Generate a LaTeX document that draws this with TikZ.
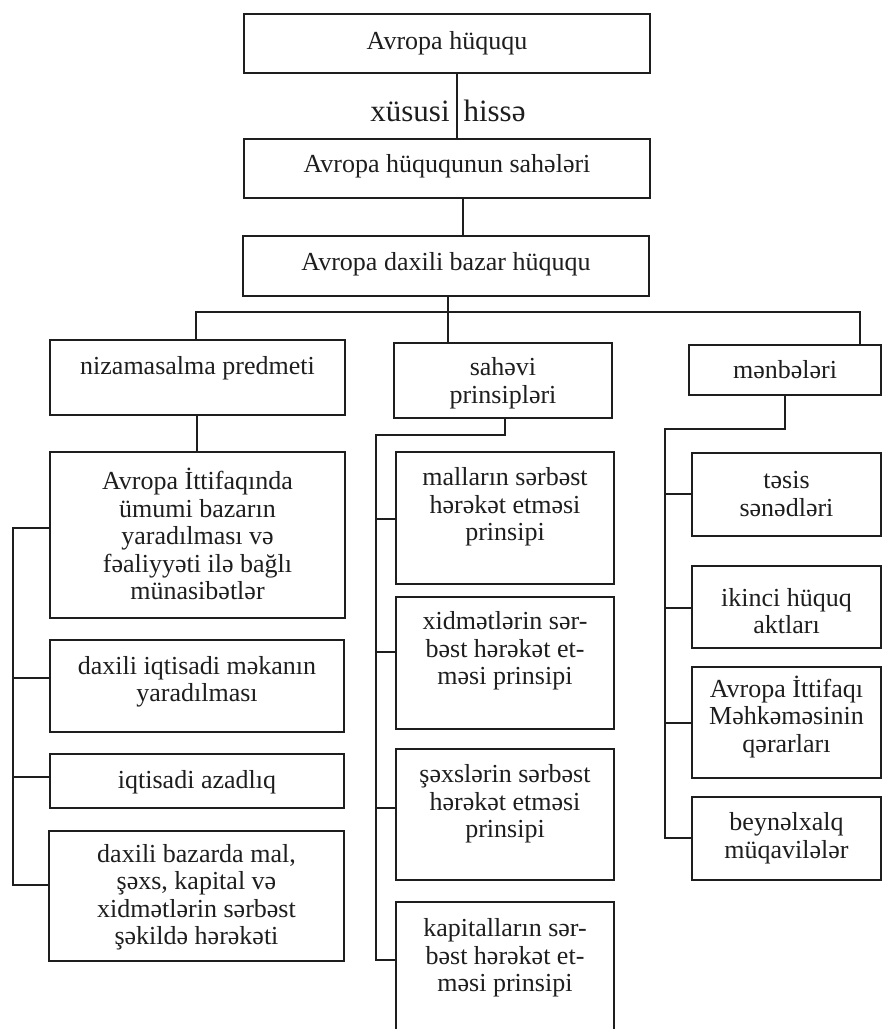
\documentclass[tikz,border=0pt]{standalone}
\usepackage{fontspec}
\setmainfont{Liberation Serif}
\definecolor{ink}{HTML}{1E1E1E}
% a framed box from (left,top) to (right,bottom) with its text centred at height ty
\newcommand\tbox[7]{%
  \node[frame, minimum width={#4-#2}, minimum height={#5-#3}] (#1) at (#2,#3) {};
  \node[lbl] (#1-t) at (#1.center |- 0,#6) {#7};}
\begin{document}
\begin{tikzpicture}[x=1pt,y=-1pt,
  frame/.style={draw=ink, line width=1.6pt, rectangle, inner sep=0pt, outer sep=0pt, anchor=north west},
  lbl/.style={text=ink, align=center, font=\fontsize{26}{27.5}\selectfont, inner sep=0pt},
  big/.style={text=ink, font=\fontsize{31}{33}\selectfont, inner sep=0pt, anchor=base},
  wire/.style={draw=ink, line width=1.6pt}]
\useasboundingbox (0,0) rectangle (884,1029);
\fill[white] (0,0) rectangle (884,1029);
\clip (0,0) rectangle (884,1029);

% upper chain
\tbox{top}{244}{14}{650}{73}{43}{Avropa hüququ}
\tbox{sah}{244}{139}{650}{198}{166}{Avropa hüququnun sahələri}
\tbox{dax}{243}{236}{649}{296}{264}{Avropa daxili bazar hüququ}
\node[big] (xh) at (448,121) {xüsusi\hspace{0.45em}hissə};

% three branches
\tbox{niz}{50}{340}{345}{415}{368}{nizamasalma predmeti}
\tbox{sahv}{394}{343}{612}{418}{383}{sahəvi\\prinsipləri}
\tbox{menb}{689}{345}{881}{395}{370}{mənbələri}

% left column
\tbox{L1}{50}{452}{345}{618}{534}{Avropa İttifaqında\\ümumi bazarın\\yaradılması və\\fəaliyyəti ilə bağlı\\münasibətlər}
\tbox{L2}{50}{640}{344}{732}{682}{daxili iqtisadi məkanın\\yaradılması}
\tbox{L3}{50}{754}{344}{808}{782}{iqtisadi azadlıq}
\tbox{L4}{49}{831}{344}{961}{897}{daxili bazarda mal,\\şəxs, kapital və\\xidmətlərin sərbəst\\şəkildə hərəkəti}

% middle column
\tbox{M1}{396}{452}{614}{584}{507}{malların sərbəst\\hərəkət etməsi\\prinsipi}
\tbox{M2}{396}{597}{614}{729}{651}{xidmətlərin sər-\\bəst hərəkət et-\\məsi prinsipi}
\tbox{M3}{396}{749}{614}{880}{804}{şəxslərin sərbəst\\hərəkət etməsi\\prinsipi}
\tbox{M4}{396}{902}{614}{1060}{958}{kapitalların sər-\\bəst hərəkət et-\\məsi prinsipi}

% right column
\tbox{R1}{692}{453}{881}{536}{494}{təsis\\sənədləri}
\tbox{R2}{692}{566}{881}{648}{611}{ikinci hüquq\\aktları}
\tbox{R3}{692}{667}{881}{778}{717}{Avropa İttifaqı\\Məhkəməsinin\\qərarları}
\tbox{R4}{692}{797}{881}{880}{838}{beynəlxalq\\müqavilələr}

% connectors of the upper chain
\draw[wire] (top.south -| 457,0) -- (sah.north -| 457,0);
\draw[wire] (sah.south -| 463,0) -- (dax.north -| 463,0);
\draw[wire] (dax.south -| 448,0) -- (sahv.north -| 448,0);
\coordinate (busL) at (196,312);
\coordinate (busR) at (860,312);
\draw[wire] (niz.north -| busL) -- (busL) -- (busR) -- (menb.north -| busR);

% left spine
\draw[wire] (niz.south -| 197,0) -- (L1.north -| 197,0);
\coordinate (lsp) at (13,528);
\draw[wire] (L1.west |- lsp) -- (lsp) -- (lsp |- 0,885) -- (L4.west |- 0,885);
\draw[wire] (lsp |- 0,678) -- (L2.west |- 0,678);
\draw[wire] (lsp |- 0,777) -- (L3.west |- 0,777);

% middle spine
\coordinate (msp) at (376,435);
\draw[wire] (sahv.south -| 505,0) |- (msp) -- (msp |- 0,960) -- (M4.west |- 0,960);
\draw[wire] (msp |- 0,519) -- (M1.west |- 0,519);
\draw[wire] (msp |- 0,652) -- (M2.west |- 0,652);
\draw[wire] (msp |- 0,808) -- (M3.west |- 0,808);

% right spine
\coordinate (rsp) at (665,429);
\draw[wire] (menb.south -| 785,0) |- (rsp) -- (rsp |- 0,838) -- (R4.west |- 0,838);
\draw[wire] (rsp |- 0,494) -- (R1.west |- 0,494);
\draw[wire] (rsp |- 0,608) -- (R2.west |- 0,608);
\draw[wire] (rsp |- 0,723) -- (R3.west |- 0,723);
\end{tikzpicture}
\end{document}
